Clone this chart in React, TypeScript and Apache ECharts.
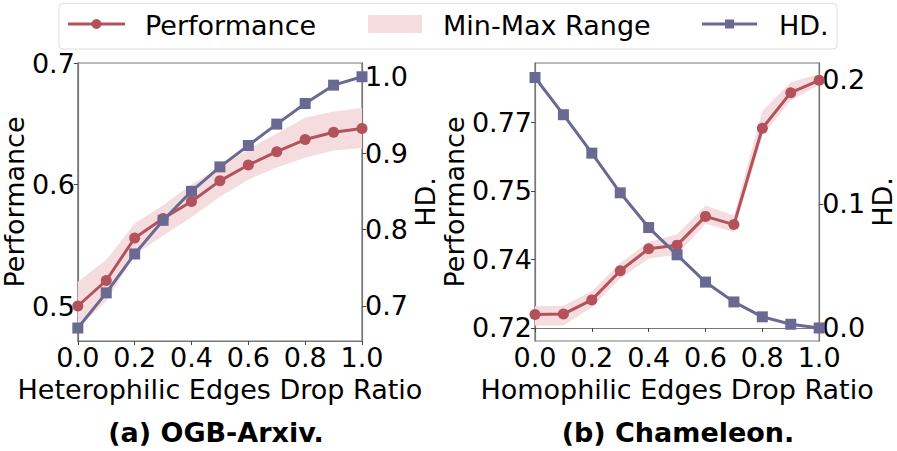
import React, { useEffect, useRef } from "react";
import * as echarts from "echarts";

const dropRatio = [0, 0.1, 0.2, 0.3, 0.4, 0.5, 0.6, 0.7, 0.8, 0.9, 1.0];

const arxivPerf = [0.500, 0.521, 0.556, 0.572, 0.586, 0.603, 0.616, 0.627, 0.637, 0.643, 0.646];
const arxivMin = [0.482, 0.504, 0.542, 0.558, 0.573, 0.590, 0.604, 0.614, 0.622, 0.628, 0.630];
const arxivMax = [0.520, 0.538, 0.568, 0.583, 0.600, 0.614, 0.629, 0.642, 0.655, 0.660, 0.663];
const arxivHD = [0.671, 0.717, 0.768, 0.812, 0.850, 0.882, 0.910, 0.938, 0.965, 0.989, 1.000];

const chamPerf = [0.7229, 0.7230, 0.7261, 0.7325, 0.7373, 0.7381, 0.7444, 0.7426, 0.7637, 0.7715, 0.7742];
const chamMin = [0.7205, 0.7205, 0.7245, 0.7308, 0.7352, 0.7360, 0.7428, 0.7410, 0.7620, 0.7698, 0.7732];
const chamMax = [0.7247, 0.7248, 0.7280, 0.7342, 0.7388, 0.7405, 0.7468, 0.7446, 0.7675, 0.7738, 0.7756];
const chamHD = [0.202, 0.172, 0.141, 0.109, 0.081, 0.059, 0.037, 0.021, 0.009, 0.003, 0.000];

const xTicks = [0, 0.2, 0.4, 0.6, 0.8, 1.0];
const arxivPerfTicks = [0.5, 0.6, 0.7];
const arxivHDTicks = [0.7, 0.8, 0.9, 1.0];
const chamPerfTicks = [0.72, 0.735, 0.75, 0.765];
const chamPerfTickLabels = ["0.72", "0.74", "0.75", "0.77"];
const chamHDTicks = [0.0, 0.1, 0.2];

const RED = "#b3525a";
const BLUE = "#6a6992";
const PINK = "#f5dcdf";
const FRAME = "#777777";
const FONT = "DejaVu Sans";
const FS = 27;

const pairs = (ys: number[]) => ys.map((y, i) => [dropRatio[i], y]);

function yAxisBase(gridIndex: number, position: "left" | "right", min: number, max: number, ticks: number[], fmt: (v: number) => string, name: string, nameGap: number) {
  return {
    type: "value",
    gridIndex,
    position,
    min,
    max,
    splitLine: { show: false },
    axisLine: { show: true, lineStyle: { color: FRAME, width: 1.2 } },
    axisTick: { show: true, length: 4, lineStyle: { color: "#444" }, customValues: ticks },
    axisLabel: { show: true, customValues: ticks, formatter: fmt, color: "#000", fontFamily: FONT, fontSize: FS, margin: 3 },
    name,
    nameLocation: "middle",
    nameRotate: 90,
    nameGap,
    nameTextStyle: { color: "#000", fontFamily: FONT, fontSize: FS },
  };
}

function xAxisBase(gridIndex: number, name: string) {
  return {
    type: "value",
    gridIndex,
    min: 0,
    max: 1,
    splitLine: { show: false },
    axisLine: { show: true, lineStyle: { color: FRAME, width: 1.2 } },
    axisTick: { show: true, length: 4, lineStyle: { color: "#444" }, customValues: xTicks },
    axisLabel: { show: true, customValues: xTicks, formatter: (v: number) => v.toFixed(1), color: "#000", fontFamily: FONT, fontSize: FS, margin: 3 },
    name,
    nameLocation: "middle",
    nameGap: 33,
    nameTextStyle: { color: "#000", fontFamily: FONT, fontSize: FS },
  };
}

function bandSeries(xi: number, yi: number, lo: number[], hi: number[]) {
  return {
    type: "custom",
    xAxisIndex: xi,
    yAxisIndex: yi,
    silent: true,
    z: 1,
    data: dropRatio.map((x, i) => [x, lo[i], hi[i]]),
    encode: { x: 0, y: [1, 2] },
    renderItem: (params: any, api: any) => {
      if (params.dataIndex !== 0) return null;
      const upper = dropRatio.map((x, i) => api.coord([x, hi[i]]));
      const lower = dropRatio.map((x, i) => api.coord([x, lo[i]])).reverse();
      return {
        type: "polygon",
        shape: { points: upper.concat(lower) },
        style: { fill: PINK, stroke: "none" },
      };
    },
  };
}

function lineSeries(xi: number, yi: number, ys: number[], color: string, symbol: string) {
  return {
    type: "line",
    xAxisIndex: xi,
    yAxisIndex: yi,
    data: pairs(ys),
    symbol,
    symbolSize: 11,
    itemStyle: { color },
    lineStyle: { color, width: 3 },
    z: 3,
  };
}

export default function App() {
  const ref = useRef<HTMLDivElement>(null);
  useEffect(() => {
    if (!ref.current) return;
    const chart = echarts.init(ref.current, undefined, { renderer: "svg" });
    const option: any = {
      animation: false,
      backgroundColor: "#fff",
      textStyle: { fontFamily: FONT },
      grid: [
        { left: 74, top: 63, width: 288, height: 278, show: true, borderColor: FRAME, borderWidth: 1.2, containLabel: false },
        { left: 535, top: 63, width: 287, height: 278, show: true, borderColor: FRAME, borderWidth: 1.2, containLabel: false },
      ],
      xAxis: [xAxisBase(0, "Heterophilic Edges Drop Ratio"), xAxisBase(1, "Homophilic Edges Drop Ratio")],
      yAxis: [
        yAxisBase(0, "left", 0.4712, 0.7, arxivPerfTicks, (v: number) => v.toFixed(1), "Performance", 47),
        yAxisBase(0, "right", 0.654, 1.018, arxivHDTicks, (v: number) => v.toFixed(1), "HD.", 44),
        yAxisBase(1, "left", 0.7171, 0.778, chamPerfTicks, (v: number) => {
          let best = 0;
          chamPerfTicks.forEach((t, i) => { if (Math.abs(t - v) < Math.abs(chamPerfTicks[best] - v)) best = i; });
          return chamPerfTickLabels[best];
        }, "Performance", 63),
        yAxisBase(1, "right", -0.0105, 0.2137, chamHDTicks, (v: number) => v.toFixed(1), "HD.", 46),
      ],
      series: [
        bandSeries(0, 0, arxivMin, arxivMax),
        lineSeries(0, 0, arxivPerf, RED, "circle"),
        lineSeries(0, 1, arxivHD, BLUE, "rect"),
        bandSeries(1, 2, chamMin, chamMax),
        lineSeries(1, 2, chamPerf, RED, "circle"),
        lineSeries(1, 3, chamHD, BLUE, "rect"),
      ],
      graphic: [
        { type: "rect", shape: { x: 59, y: 3.5, width: 778, height: 45.5, r: 4 }, style: { fill: "#fff", stroke: "#dddddd", lineWidth: 1 }, z: 10 },
        { type: "line", shape: { x1: 68, y1: 24, x2: 125, y2: 24 }, style: { stroke: RED, lineWidth: 3 }, z: 11 },
        { type: "circle", shape: { cx: 96.5, cy: 24, r: 5 }, style: { fill: RED }, z: 12 },
        { type: "text", x: 145, y: 25, style: { text: "Performance", fill: "#000", font: `${FS}px "${FONT}"`, verticalAlign: "middle" }, z: 11 },
        { type: "rect", shape: { x: 368, y: 15, width: 54, height: 18 }, style: { fill: PINK }, z: 11 },
        { type: "text", x: 443, y: 25, style: { text: "Min-Max Range", fill: "#000", font: `${FS}px "${FONT}"`, verticalAlign: "middle" }, z: 11 },
        { type: "line", shape: { x1: 702, y1: 24, x2: 757, y2: 24 }, style: { stroke: BLUE, lineWidth: 3 }, z: 11 },
        { type: "rect", shape: { x: 725, y: 19.5, width: 9, height: 9 }, style: { fill: BLUE }, z: 12 },
        { type: "text", x: 779, y: 25, style: { text: "HD.", fill: "#000", font: `${FS}px "${FONT}"`, verticalAlign: "middle" }, z: 11 },
        { type: "text", x: 216, y: 432, style: { text: "(a) OGB-Arxiv.", fill: "#000", font: `bold 27px "${FONT}"`, align: "center", verticalAlign: "middle" } },
        { type: "text", x: 678, y: 432, style: { text: "(b) Chameleon.", fill: "#000", font: `bold 27px "${FONT}"`, align: "center", verticalAlign: "middle" } },
      ],
    };
    chart.setOption(option);
    return () => chart.dispose();
  }, []);
  return <div ref={ref} style={{ position: "fixed", left: 0, top: 0, width: 897, height: 451 }} />;
}
